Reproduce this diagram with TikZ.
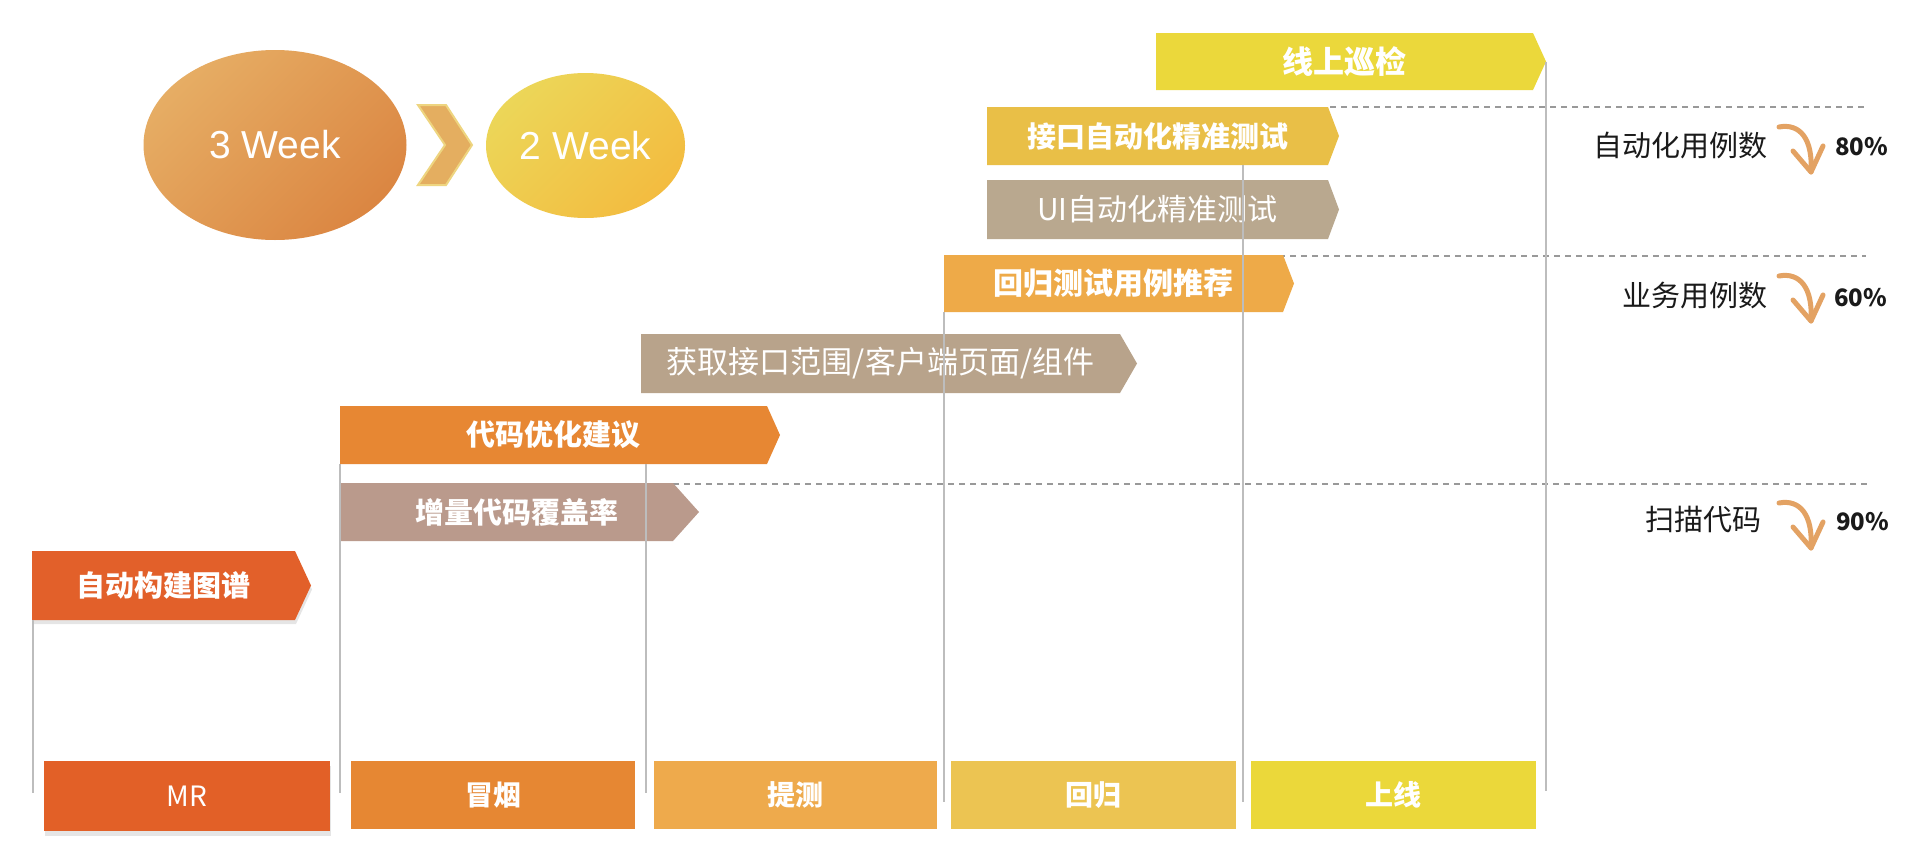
\documentclass[tikz,border=0pt]{standalone}
\usepackage{fontspec}
\setmainfont{Liberation Sans}
\newfontfamily\cjk{Noto Sans CJK SC}
\usetikzlibrary{shapes.geometric,shadows}
\definecolor{cMR}{HTML}{E26027}
\definecolor{cSmoke}{HTML}{E68733}
\definecolor{cTice}{HTML}{EEAA4C}
\definecolor{cHuigui}{HTML}{ECC452}
\definecolor{cShang}{HTML}{EBD83A}
\definecolor{cUI}{HTML}{B9A88F}
\definecolor{cScope}{HTML}{B8A38B}
\definecolor{cInc}{HTML}{BA9A8C}
\definecolor{cApi}{HTML}{E9BF47}
\definecolor{cOnline}{HTML}{EBD83B}
\definecolor{cReg}{HTML}{EEAA48}
\definecolor{cOpt}{HTML}{E78733}
\definecolor{cAuto}{HTML}{E2602A}
\definecolor{wThreeA}{HTML}{E6AD64}
\definecolor{wThreeB}{HTML}{DB8642}
\definecolor{wTwoA}{HTML}{ECD658}
\definecolor{wTwoB}{HTML}{F3BC40}
\definecolor{chevFill}{HTML}{E4AE60}
\definecolor{chevLine}{HTML}{EED580}
\definecolor{lineGray}{HTML}{BDBDBD}
\definecolor{dotGray}{HTML}{999999}
\definecolor{labelBlack}{HTML}{1A1A1A}
\definecolor{arrOrange}{HTML}{E3A263}
\newcommand\tagbox[8]{%
  \path[#7] (#2,#5) -- (#3,#5) -- (#4,{(#5+#6)/2}) -- (#3,#6) -- (#2,#6) -- cycle;
  \coordinate (#1-sw) at (#2,#6);
  \coordinate (#1-tip) at (#4,{(#5+#6)/2});
  \node[boxtext] (#1) at ({(#2+#3)/2},{(#5+#6)/2}) {#8};}
\newcommand\curvearr[2]{%
  \begin{scope}[shift={(0,#2)}]
    \coordinate (#1-s) at (1779,503);
    \coordinate (#1-t) at (1811,548);
    \draw[curvearrow] (#1-s) .. controls (1800,499) and (1813,515) .. (#1-t);
    \draw[curvearrow] (1793,527) -- (#1-t) -- (1823,522);
  \end{scope}}
\begin{document}
\begin{tikzpicture}[x=1pt,y=-1pt,
  boxtext/.style={text=white, inner sep=0pt, font=\cjk\bfseries\fontsize{29}{35}\selectfont},
  vline/.style={draw=lineGray, line width=2pt},
  dotline/.style={draw=dotGray, line width=2.5pt, dash pattern=on 6pt off 5pt},
  stagebox/.style={inner sep=0pt, text=white, font=\cjk\bfseries\fontsize{28}{34}\selectfont},
  sidelabel/.style={anchor=east, inner sep=0pt, text=labelBlack, font=\cjk\fontsize{29}{35}\selectfont},
  pct/.style={anchor=west, inner sep=0pt, text=labelBlack, font=\cjk\bfseries\fontsize{24}{30}\selectfont},
  curvearrow/.style={draw=arrOrange, line width=5pt, line cap=round, line join=round},
  weekcircle/.style={ellipse, inner sep=0pt, text=white, font=\fontsize{39}{46}\selectfont}
]
\useasboundingbox (0,0) rectangle (1930,854);
\fill[white] (0,0) rectangle (1930,854);

% week circles and chevron
\node[weekcircle, minimum width=263pt, minimum height=190pt, top color=wThreeA, bottom color=wThreeB, shading angle=45] (w3) at (275,145) {3 Week};
\node[weekcircle, minimum width=199pt, minimum height=145pt, top color=wTwoA, bottom color=wTwoB, shading angle=45] (w2) at (585.5,145.5) {2 Week};
\filldraw[fill=chevFill, draw=chevLine, line width=2pt, line join=miter]
  (418,105) -- (446,105) -- (472,145) -- (446,185) -- (418,185) -- (445,145) -- cycle;

% dotted separators
\coordinate (d1s) at (1330,107); \coordinate (d1e) at (1868,107);
\coordinate (d2s) at (1268,256); \coordinate (d2e) at (1866,256);
\coordinate (d3s) at (673,484);  \coordinate (d3e) at (1868,484);
\draw[dotline] (d1s) -- (d1e);
\draw[dotline] (d2s) -- (d2e);
\draw[dotline] (d3s) -- (d3e);

% activity tags
\tagbox{online}{1156}{1533}{1546}{33}{90}{fill=cOnline}{\fontsize{31}{36}\selectfont 线上巡检}
\tagbox{api}{987}{1328}{1339}{107}{165}{fill=cApi}{接口自动化精准测试}
\tagbox{ui}{987}{1328}{1339}{180}{239}{fill=cUI}{\mdseries\fontsize{30}{36}\selectfont UI自动化精准测试}
\tagbox{reg}{944}{1283}{1294}{255}{312}{fill=cReg}{\fontsize{30}{36}\selectfont 回归测试用例推荐}
\tagbox{scope}{641}{1120}{1137}{334}{393}{fill=cScope}{\mdseries\fontsize{31}{36}\selectfont 获取接口范围/客户端页面/组件}
\tagbox{opt}{340}{767}{780}{406}{464}{fill=cOpt}{代码优化建议}
\tagbox{inc}{340}{673}{699}{483}{541}{fill=cInc}{\hspace{20pt}增量代码覆盖率}
\tagbox{graph}{32}{295}{311}{551}{620}{fill=cAuto, drop shadow={shadow xshift=1pt, shadow yshift=-4pt, opacity=0.2}}{自动构建图谱}

% stage boxes
\node[stagebox, fill=cMR, minimum width=286pt, minimum height=70pt, drop shadow={shadow xshift=1pt, shadow yshift=-5pt, opacity=0.2}] (mr) at (187,796) {\mdseries MR};
\node[stagebox, fill=cSmoke, minimum width=284pt, minimum height=68pt] (smoke) at (493,795) {冒烟};
\node[stagebox, fill=cTice, minimum width=283pt, minimum height=68pt] (tice) at (795.5,795) {提测};
\node[stagebox, fill=cHuigui, minimum width=285pt, minimum height=68pt] (huigui) at (1093.5,795) {回归};
\node[stagebox, fill=cShang, minimum width=285pt, minimum height=68pt] (shang) at (1393.5,795) {上线};

% vertical timeline lines
\coordinate (v1) at (33,793);
\coordinate (v2s) at (340,464); \coordinate (v2) at (340,793);
\coordinate (v3s) at (646,464); \coordinate (v3) at (646,793);
\coordinate (v4s) at (944,312); \coordinate (v4) at (944,802);
\coordinate (v5s) at (1243,165); \coordinate (v5) at (1243,802);
\coordinate (v6) at (1546,791);
\draw[vline] (33,620) -- (v1);
\draw[vline] (v2s) -- (v2);
\draw[vline] (v3s) -- (v3);
\draw[vline] (v4s) -- (v4);
\draw[vline] (v5s) -- (v5);
\draw[vline] (online-tip) -- (v6);

% right-hand metrics
\node[sidelabel] (l1) at (1768,146) {自动化用例数};
\node[sidelabel] (l2) at (1768,296) {业务用例数};
\node[sidelabel] (l3) at (1762,520) {扫描代码};
\node[pct] (p1) at (1835,147) {80\%};
\node[pct] (p2) at (1834,298) {60\%};
\node[pct] (p3) at (1836,522) {90\%};
\curvearr{a1}{-376}
\curvearr{a2}{-227}
\curvearr{a3}{0}
\end{tikzpicture}
\end{document}
